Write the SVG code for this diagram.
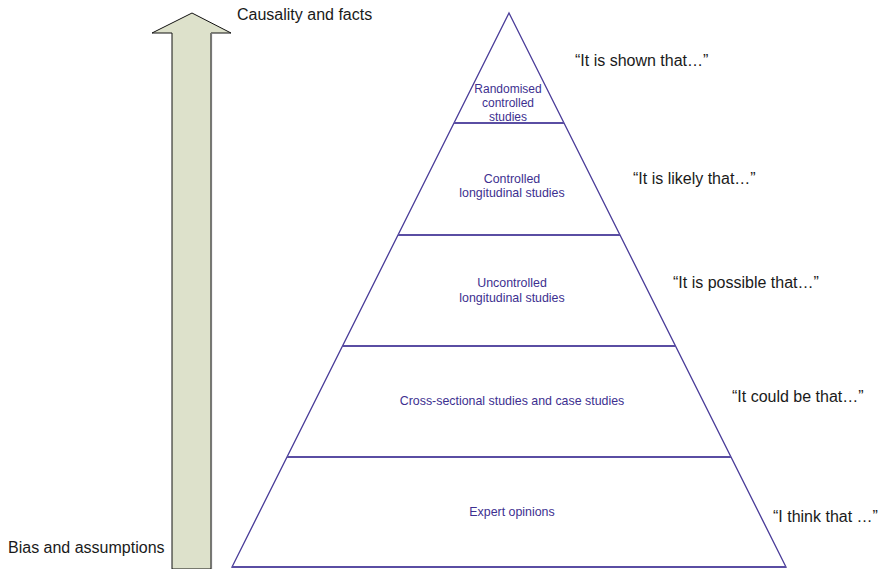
<svg xmlns="http://www.w3.org/2000/svg" width="886" height="569" viewBox="0 0 886 569">
<style>
.lbl{font-family:"Liberation Sans",Arial,sans-serif;font-size:12.4px;fill:#3d3090;text-anchor:middle}
.top{font-size:12px}
.q{font-family:"Liberation Sans",Arial,sans-serif;font-size:16px;fill:#1a1a1a}
.edge{stroke:#4a3c99;stroke-width:1.3;fill:none}
.tier{stroke:#5a4ea3;stroke-width:2;fill:none}
</style>
<rect width="886" height="569" fill="#ffffff"/>
<g id="arrow">
<polygon points="192,13 231,33 211,33 211,569 172,569 172,33 152,33" fill="#dde1cb" stroke="#111" stroke-width="1"/>
<line x1="211.5" y1="33" x2="211.5" y2="569" stroke="#777" stroke-width="1.2"/>
</g>
<g id="axis-labels">
<text class="q" x="237" y="20">Causality and facts</text>
<text class="q" x="8" y="553">Bias and assumptions</text>
</g>
<g id="connectors">
<polygon class="edge" points="509,13 786,567 232,567"/>
<line class="tier" x1="454" y1="123" x2="564" y2="123"/>
<line class="tier" x1="398" y1="235" x2="620" y2="235"/>
<line class="tier" x1="342.5" y1="346" x2="675.5" y2="346"/>
<line class="tier" x1="287" y1="457" x2="731" y2="457"/>
<line class="tier" x1="232" y1="567" x2="786" y2="567"/>
</g>
<g id="tier1">
<text class="lbl top" x="508" y="93">Randomised</text>
<text class="lbl top" x="508" y="107">controlled</text>
<text class="lbl top" x="508" y="121">studies</text>
</g>
<g id="tier2">
<text class="lbl" x="512" y="183">Controlled</text>
<text class="lbl" x="512" y="197">longitudinal studies</text>
</g>
<g id="tier3">
<text class="lbl" x="512" y="287">Uncontrolled</text>
<text class="lbl" x="512" y="302">longitudinal studies</text>
</g>
<g id="tier4">
<text class="lbl" x="512" y="405">Cross-sectional studies and case studies</text>
</g>
<g id="tier5">
<text class="lbl" x="512" y="516">Expert opinions</text>
</g>
<g id="statements">
<text class="q" x="575" y="66">“It is shown that…”</text>
<text class="q" x="633" y="184">“It is likely that…”</text>
<text class="q" x="673" y="288">“It is possible that…”</text>
<text class="q" x="732" y="402">“It could be that…”</text>
<text class="q" x="773" y="522">“I think that …”</text>
</g>
</svg>
